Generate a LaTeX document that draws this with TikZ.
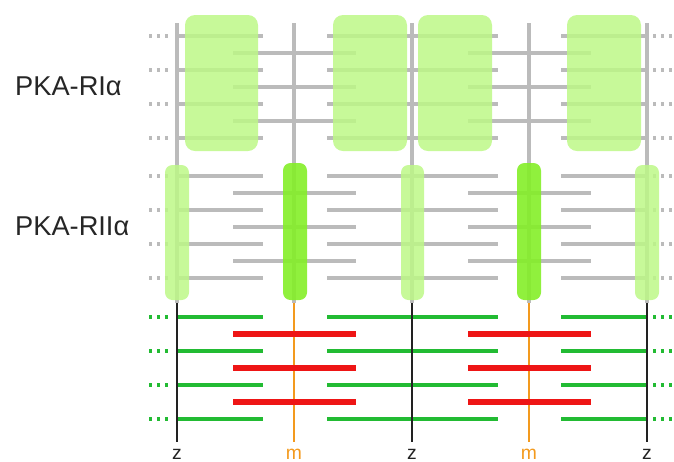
\documentclass[tikz,border=0pt]{standalone}
\usepackage{fontspec}
\setmainfont{Liberation Sans}
\usetikzlibrary{positioning}
\definecolor{rowGray}{HTML}{BBBBBB}
\definecolor{boxLight}{HTML}{BDF887}
\definecolor{boxBright}{HTML}{84EE28}
\definecolor{rowGreen}{HTML}{22BB33}
\definecolor{rowRed}{HTML}{EE1515}
\definecolor{mOrange}{HTML}{F39A1E}
\definecolor{zDark}{HTML}{222222}
\tikzset{
  grayrow/.style={rowGray, line width=2.4pt},
  grayvert/.style={rowGray, line width=1.8pt},
  greenrow/.style={rowGreen, line width=2.4pt},
  redrow/.style={rowRed, line width=3pt},
  zline/.style={zDark, line width=1.7pt},
  mline/.style={mOrange, line width=1.7pt},
  dotrow/.style={line width=2pt, dash pattern=on 1.6pt off 2.9pt},
  widebox/.style={fill=boxLight, fill opacity=0.85, rounded corners=0.2cm},
  slimbox/.style={fill=boxLight, fill opacity=0.85, rounded corners=0.15cm},
  brightbox/.style={fill=boxBright, fill opacity=0.9, rounded corners=0.15cm},
  rowlabel/.style={anchor=west, font=\fontsize{15.5}{18}\selectfont, text=black!85},
  axislabel/.style={font=\fontsize{11}{13}\selectfont},
}
\begin{document}
\begin{tikzpicture}[x=0.02cm, y=-0.02cm]
  \useasboundingbox (0,0) rectangle (674,461);

  % Filament positions
  \coordinate (z1) at (177,0);
  \coordinate (m1) at (294,0);
  \coordinate (z2) at (412,0);
  \coordinate (m2) at (529,0);
  \coordinate (z3) at (647,0);

  % Gray verticals (RI and RII)
  \foreach \p in {z1,m1,z2,m2,z3}
    \draw[grayvert] (\p |- 0,23) -- (\p |- 0,303);

  % Gray rows, RI and RII
  \foreach \y in {36,70,104,138,176,210,244,278} {
    \draw[grayrow] (177,\y) -- (263,\y);
    \draw[grayrow] (327,\y) -- (498,\y);
    \draw[grayrow] (561,\y) -- (647,\y);
    \draw[grayrow, dotrow] (149,\y) -- (172,\y);
    \draw[grayrow, dotrow] (653,\y) -- (674,\y);
  }
  \foreach \y in {53,87,121,193,227,261} {
    \draw[grayrow] (233,\y) -- (356,\y);
    \draw[grayrow] (468,\y) -- (591,\y);
  }

  % PKA-RIalpha boxes
  \fill[widebox] (185,15) rectangle (258,151);
  \fill[widebox] (333,15) rectangle (407,151);
  \fill[widebox] (418,15) rectangle (492,151);
  \fill[widebox] (567,15) rectangle (641,151);

  % PKA-RIIalpha boxes
  \fill[slimbox] (165,165) rectangle (189,300);
  \fill[slimbox] (401,165) rectangle (424,300);
  \fill[slimbox] (635,165) rectangle (659,300);
  \fill[brightbox] (283,163) rectangle (307,300);
  \fill[brightbox] (517,163) rectangle (541,300);

  % Model rows
  \foreach \y in {317,351,385,419} {
    \draw[greenrow] (177,\y) -- (263,\y);
    \draw[greenrow] (327,\y) -- (498,\y);
    \draw[greenrow] (561,\y) -- (647,\y);
    \draw[greenrow, dotrow] (149,\y) -- (172,\y);
    \draw[greenrow, dotrow] (653,\y) -- (674,\y);
  }
  \foreach \p in {z1,z2,z3}
    \draw[zline] (\p |- 0,303) -- (\p |- 0,442);
  \foreach \p in {m1,m2}
    \draw[mline] (\p |- 0,303) -- (\p |- 0,442);
  \foreach \y in {334,368,402} {
    \draw[redrow] (233,\y) -- (356,\y);
    \draw[redrow] (468,\y) -- (591,\y);
  }

  % Labels
  \node[rowlabel] (RIa) at (9,86) {PKA-RIα};
  \node[rowlabel] (RIIa) at (9,226) {PKA-RIIα};
  \node[axislabel, text=zDark] (zlab1) at (z1 |- 0,454) {z};
  \node[axislabel, text=zDark] (zlab2) at (z2 |- 0,454) {z};
  \node[axislabel, text=zDark] (zlab3) at (z3 |- 0,454) {z};
  \node[axislabel, text=mOrange] (mlab1) at (m1 |- 0,454) {m};
  \node[axislabel, text=mOrange] (mlab2) at (m2 |- 0,454) {m};

\end{tikzpicture}
\end{document}
